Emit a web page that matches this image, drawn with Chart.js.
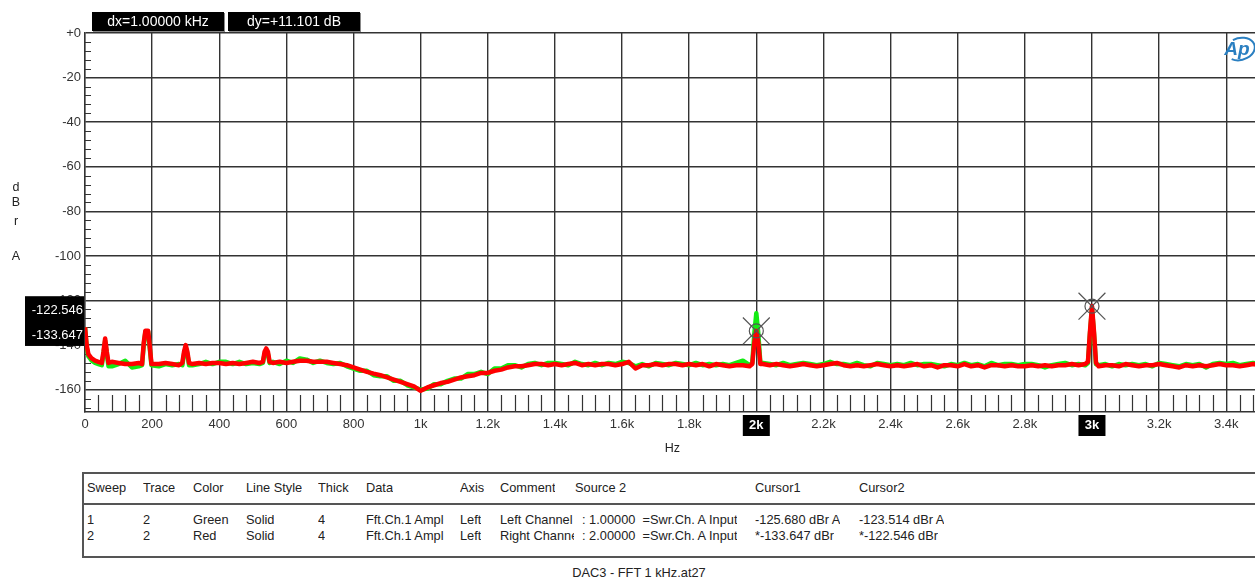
<!DOCTYPE html>
<html><head><meta charset="utf-8">
<script src="https://cdn.jsdelivr.net/npm/chart.js@4.4.1/dist/chart.umd.min.js"></script>
<style>
html,body{margin:0;padding:0;background:#fff;overflow:hidden;width:1255px;height:579px;font-family:"Liberation Sans",Arial,sans-serif;}
#wrap{position:absolute;left:0;top:0;width:1280px;height:460px;}
.box{position:absolute;top:12px;height:19px;width:132px;background:#000;color:#fff;font-size:14px;line-height:19px;text-align:center;box-shadow:1px 1px 0 #888;}
.tb{position:absolute;left:82px;top:472px;width:1190px;height:86px;border:2px solid #555;border-right:none;box-sizing:border-box;}
.hl{position:absolute;left:82px;top:503px;width:1190px;height:0;border-top:2px solid #555;}
.t{position:absolute;font-size:12.8px;color:#222;white-space:pre;line-height:14px;overflow:hidden;}
.cap{position:absolute;left:0;width:1278px;top:566px;text-align:center;font-size:12.8px;color:#222;line-height:14px;}
</style></head>
<body>
<div id="wrap"><canvas id="c" width="1280" height="460"></canvas></div>
<div class="box" id="dx" style="left:92px"></div>
<div class="box" id="dy" style="left:228px"></div>
<div class="tb"></div><div class="hl"></div>
<div id="tbl"></div>
<div class="cap" id="cap"></div>
<script>
// ---------------- data ----------------
const freqHz = [
  0,5,10,20,30,40,50,55,60,65,70,80,100,120,140,160,170,175,180,188,192,198,220,240,260,280,290,295,300,305,310,320,340,360,380,400,
  420,440,460,480,500,520,530,535,540,545,550,560,580,600,620,640,660,680,700,720,740,760,780,800,
  820,840,860,880,900,920,940,960,980,1000,1020,1040,1060,1080,1100,1120,1140,1160,1180,1200,
  1220,1240,1260,1280,1300,1320,1340,1360,1380,1400,1420,1440,1460,1480,1500,1520,1540,1560,1580,1600,
  1620,1640,1660,1680,1700,1720,1740,1760,1780,1800,1820,1840,1860,1880,1900,1920,1940,1960,1980,
  1988,1994,2000,2006,2012,
  2020,2040,2060,2080,2100,2120,2140,2160,2180,2200,
  2220,2240,2260,2280,2300,2320,2340,2360,2380,2400,
  2420,2440,2460,2480,2500,2520,2540,2560,2580,2600,
  2620,2640,2660,2680,2700,2720,2740,2760,2780,2800,
  2820,2840,2860,2880,2900,2920,2940,2960,2980,
  2988,2994,3000,3006,3012,
  3020,3040,3060,3080,3100,3120,3140,3160,3180,3200,
  3220,3240,3260,3280,3300,3320,3340,3360,3380,3400,
  3420,3440,3460,3480,3500
];
// Sweep 1: Left Channel (green)
const leftChDb = [
  -132,-141,-145,-147,-148,-148.5,-149,-144,-138,-144,-149.5,-149.5,-148.5,-147,-150,-149.5,-149,-140,-134,-134,-140,-149,-149.5,-148.5,-149,-148.5,-149,-144,-141,-144,-149,-149,-148.5,-147.5,-148.5,-147.5,
  -147.5,-148.5,-147.5,-148.5,-148,-148.5,-148,-144,-142.5,-144,-148,-147.5,-148.5,-147,-148,-146,-146.5,-148,-147,-148,-148.5,-148,-149.5,-150.5,
  -151.5,-151.5,-153.5,-154,-154,-156,-156,-158,-159,-160,-159.5,-157.5,-157.5,-156,-155,-155,-153,-153,-152,-153,
  -150.5,-150.5,-149,-149,-150,-148.5,-148,-149,-148,-148,-148.5,-149,-147.5,-148.5,-149,-148,-149,-148,-148.5,-147.5,
  -148,-149.5,-148.5,-149.5,-148,-148.5,-149,-148,-148.5,-149,-148,-149,-148.5,-149,-148.5,-149,-148,-147,-149,
  -148,-135,-125.7,-135,-148,
  -148,-148.5,-149,-148,-149,-148.5,-148,-148.5,-149,-148.5,
  -147.5,-148.5,-148.5,-149,-148,-149,-149.5,-148,-148.5,-149,
  -148.5,-149,-148,-149,-148.5,-148.5,-149,-149.5,-148.5,-149,
  -148,-149,-148.5,-149.5,-148,-149,-148.5,-148.5,-149,-148.5,
  -148.5,-149,-150,-149,-148.5,-148,-149,-148.5,-149,
  -148,-135,-123.5,-135,-148.5,
  -149,-148.5,-149.5,-148.5,-149,-148.5,-149,-148.5,-149.5,-148,
  -148.5,-149,-149.5,-148.5,-149,-148.5,-150,-148.5,-148,-148.5,
  -148,-149,-148.5,-148,-148.5
];
// Sweep 2: Right Channel (red)
const rightChDb = [
  -132,-140,-144,-146,-147,-147.5,-148,-143,-137,-143,-148,-147.5,-148,-148.5,-148.5,-148,-148.5,-139,-133.5,-133.5,-139,-148.5,-148.5,-148,-148.5,-149,-148,-143,-140,-143,-148,-148.5,-148,-148.5,-148,-148,
  -148.5,-148,-148.5,-148,-147.5,-148,-147.5,-143,-141.5,-143,-147.5,-148,-147.5,-148,-147.5,-147,-147,-147.5,-147.5,-147.5,-148,-148.5,-149,-150,
  -151,-152,-152.8,-153.5,-154.5,-155.5,-156.5,-157.5,-158.5,-160.5,-159,-158,-157,-156.5,-155.5,-154.5,-154,-153.5,-152.5,-152.5,
  -151.5,-151,-150,-149.5,-149.5,-149,-148.5,-148.5,-149,-148.5,-149,-148.5,-148,-149,-148.5,-149,-148.5,-148.5,-149,-148.5,
  -147.5,-150.5,-149,-149,-148.5,-149,-148.5,-148.5,-149,-148.5,-149,-148.5,-149.5,-148.5,-149,-149.5,-149,-149,-149.5,
  -148.5,-139,-133.6,-139,-148.5,
  -148.5,-149,-148.5,-149,-149.5,-149,-148.5,-149,-149.5,-149,
  -148.5,-148,-149,-149.5,-149,-149.5,-149,-148.5,-149,-149.5,
  -149,-149.5,-149,-148.5,-149.5,-149,-150,-149,-149,-149.5,
  -148.5,-149.5,-149,-150,-149,-149,-149.5,-149,-149.5,-149.5,
  -149,-149.5,-149,-149.5,-149,-149,-148.5,-149,-148.5,
  -147.5,-134,-122.5,-134,-148,
  -149.5,-149,-149,-149.5,-148.5,-149,-149.5,-149,-149,-148.5,
  -149,-149.5,-150,-149,-149.5,-149,-149.5,-149,-148.5,-149,
  -149,-149.5,-149,-148.5,-149
];
const cursorHz = [2000, 3000];
const cursorDb = [-133.647, -122.546];
const xTickValues = [0,200,400,600,800,1000,1200,1400,1600,1800,2000,2200,2400,2600,2800,3000,3200,3400];
const yTickValues = [0,-20,-40,-60,-80,-100,-120,-140,-160];
const xRange = [0, 3500];
const yRange = [-170, 0];
const tableHeaders = ["Sweep","Trace","Color","Line Style","Thick","Data","Axis","Comment","Source 2","Cursor1","Cursor2"];
const tableRows = [
  ["1","2","Green","Solid","4","Fft.Ch.1 Ampl","Left","Left Channel",": 1.00000  =Swr.Ch. A Input","-125.680 dBr A","-123.514 dBr A"],
  ["2","2","Red","Solid","4","Fft.Ch.1 Ampl","Left","Right Channel",": 2.00000  =Swr.Ch. A Input","*-133.647 dBr","*-122.546 dBr"]
];
const caption = "DAC3 - FFT 1 kHz.at27";
const yAxisTitle = ["d","B","r","","A"];
const xAxisTitle = "Hz";

// ---------------- html text ----------------
document.getElementById('dx').textContent = 'dx=' + ((cursorHz[1]-cursorHz[0])/1000).toFixed(5) + ' kHz';
document.getElementById('dy').textContent = 'dy=+' + (cursorDb[1]-cursorDb[0]).toFixed(3) + ' dB';
document.getElementById('cap').textContent = caption;
const colX = [87,143,193,246,318,366,460,500,575,755,859];
const dataColX = [87,143,193,246,318,366,460,500,582,755,859];
const tbl = document.getElementById('tbl');
function addT(txt, x, y, w){ const d=document.createElement('div'); d.className='t'; d.style.left=x+'px'; d.style.top=y+'px'; if(w) d.style.width=w+'px'; d.textContent=txt; tbl.appendChild(d); }
tableHeaders.forEach((h,i)=>addT(h,colX[i],481));
tableRows.forEach((r,ri)=>r.forEach((c,i)=>addT(c,dataColX[i],513+ri*16, i===7?74:null)));

// ---------------- chart ----------------
Chart.defaults.font.family = '"Liberation Sans", Arial, sans-serif';
Chart.defaults.font.size = 13;
Chart.defaults.color = '#333';

const fmtHz = v => v===0 ? '0' : (v<1000 ? String(v) : (v/1000)+'k');

const overlay = {
  id:'overlay',
  beforeDatasetsDraw(chart){
    const {ctx, scales:{x,y}, chartArea:a} = chart;
    ctx.save(); ctx.strokeStyle='#333'; ctx.lineWidth=1.2;
    ctx.beginPath();
    for (let f=0; f<=x.max; f+=40){ if(f%200===0) continue; const px=Math.round(x.getPixelForValue(f))+0.5; ctx.moveTo(px,a.bottom); ctx.lineTo(px,a.bottom-17); }
    for (let v=0; v>y.min; v-=4){ if(v%20===0) continue; const py=Math.round(y.getPixelForValue(v))+0.5; ctx.moveTo(a.left,py); ctx.lineTo(a.left+6,py); }
    ctx.stroke(); ctx.restore();
  },
  afterDraw(chart){
    const {ctx, scales:{x,y}, chartArea:a} = chart;
    ctx.save();
    // cursor frequency boxes on x axis
    ctx.font = 'bold 13px "Liberation Sans", Arial, sans-serif';
    ctx.textAlign='center'; ctx.textBaseline='middle';
    cursorHz.forEach(f=>{
      const px = x.getPixelForValue(f);
      ctx.fillStyle='#000'; ctx.fillRect(px-13.5, a.bottom+3, 27, 21);
      ctx.fillStyle='#fff'; ctx.fillText(fmtHz(f), px, a.bottom+13);
    });
    // cursor level box on y axis
    const p1 = y.getPixelForValue(cursorDb[1]), p0 = y.getPixelForValue(cursorDb[0]);
    ctx.fillStyle='#000'; ctx.fillRect(25, p1-10, 59, (p0-p1)+25);
    ctx.fillStyle='#fff'; ctx.font='13px "Liberation Sans", Arial, sans-serif'; ctx.textAlign='right';
    ctx.fillText(cursorDb[1].toFixed(3), 83, p1+4);
    ctx.fillText(cursorDb[0].toFixed(3), 83, p0+4);
    // axis titles
    ctx.fillStyle='#222'; ctx.font='12.5px "Liberation Sans", Arial, sans-serif'; ctx.textAlign='center';
    const ys=[188,203,222,0,257];
    yAxisTitle.forEach((c,i)=>{ if(c) ctx.fillText(c, 16, ys[i]); });
    ctx.fillText(xAxisTitle, (a.left+a.right)/2, 449);
    // AP logo
    ctx.strokeStyle='#2a7fc1'; ctx.fillStyle='#2a7fc1'; ctx.lineWidth=2;
    ctx.beginPath(); ctx.ellipse(1240,49,15,11,-0.25,-0.6*Math.PI,0.75*Math.PI); ctx.stroke();
    ctx.font='italic bold 19px "Liberation Sans", Arial, sans-serif';
    ctx.fillText('Ap', 1237, 50);
    ctx.restore();
  }
};

new Chart(document.getElementById('c'), {
  type:'line',
  data:{ datasets:[
    { label:'cursor circle', data:cursorHz.map((f,i)=>({x:f,y:cursorDb[i]})), showLine:false, pointStyle:'circle', pointRadius:7, borderColor:'#555', borderWidth:1.2, backgroundColor:'rgba(0,0,0,0)', order:-2 },
    { label:'cursor cross', data:cursorHz.map((f,i)=>({x:f,y:cursorDb[i]})), showLine:false, pointStyle:'crossRot', pointRadius:19, borderColor:'#555', borderWidth:1.2, order:-1 },
    { label:'Right Channel', data:freqHz.map((f,i)=>({x:f,y:rightChDb[i]})), borderColor:'rgb(255,0,0)', borderWidth:4.5, pointRadius:0, tension:0, borderJoinStyle:'round', order:0 },
    { label:'Left Channel', data:freqHz.map((f,i)=>({x:f,y:leftChDb[i]})), borderColor:'rgb(20,235,20)', borderWidth:4.5, pointRadius:0, tension:0, borderJoinStyle:'round', order:1 }
  ]},
  options:{
    responsive:false, animation:false, events:[],
    layout:{ padding:{top:33,left:0,right:0,bottom:0} },
    plugins:{ legend:{display:false}, tooltip:{enabled:false} },
    scales:{
      x:{ type:'linear', min:xRange[0], max:xRange[1],
          afterBuildTicks:s=>{ s.ticks = xTickValues.map(v=>({value:v})); },
          afterFit:s=>{ s.height = 48; },
          grid:{ color:'#333', lineWidth:1.4, drawTicks:false },
          border:{ display:true, color:'#333', width:1.4 },
          ticks:{ padding:5, maxRotation:0, autoSkip:false, color:'#333', callback:v=>fmtHz(v) } },
      y:{ type:'linear', min:yRange[0], max:yRange[1],
          afterBuildTicks:s=>{ s.ticks = yTickValues.map(v=>({value:v})); },
          afterFit:s=>{ s.width = 85; },
          grid:{ color:'#333', lineWidth:1.4, drawTicks:false },
          border:{ display:true, color:'#333', width:1.4 },
          ticks:{ padding:4, color:'#333', callback:v=> v===0 ? '+0' : String(v) } }
    }
  },
  plugins:[overlay]
});
</script>
</body></html>
